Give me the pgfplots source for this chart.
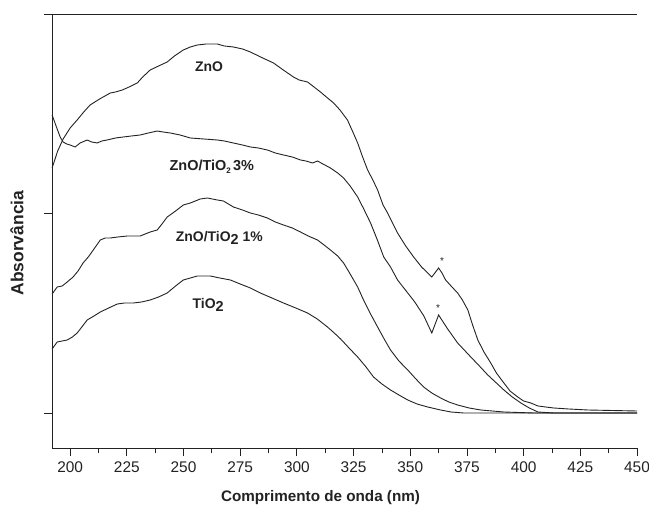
\documentclass[border=0pt]{standalone}
\usepackage{fontspec}
\setmainfont{Liberation Sans}
\usepackage{pgfplots}
\pgfplotsset{compat=1.18}
\definecolor{ink}{HTML}{222222}
\begin{document}
\begin{tikzpicture}
\begin{axis}[
  scale only axis, width=585bp, height=434bp,
  xmin=192, xmax=450, ymin=-35, ymax=399,
  axis x line*=box, axis y line*=left,
  axis line style={ink, line width=0.9bp},
  xtick={200,225,...,450}, minor x tick num=1,
  xtick pos=lower, ytick pos=left,
  ytick={0,199.5,399}, yticklabels={},
  tick align=outside,
  major tick length=8bp, minor tick length=5bp,
  every tick/.style={ink, line width=0.8bp},
  /pgf/number format/assume math mode=true,
  ticklabel style={font=\fontsize{15.5}{18}\selectfont, text=ink},
  xticklabel style={yshift=-2bp},
  xlabel={\textbf{Comprimento de onda (nm)}},
  ylabel={\textbf{Absorvância}},
  xlabel style={font=\fontsize{15.3}{18}\selectfont, text=ink, yshift=-11bp, xshift=-24bp},
  ylabel style={font=\fontsize{17.5}{20}\selectfont, text=ink, yshift=10bp, xshift=-12bp},
  clip=false,
]
\coordinate (ll) at (rel axis cs:0,0);
\coordinate (ur) at (rel axis cs:1,1);
% ZnO
\addplot[ink, line width=0.9bp] coordinates {
(192.05,245) (194.5,262) (196.9,274) (200,285) (203.1,293) (206,301) (208.8,308) (213,314) (217.7,320) (220,321) (223.0,323) (226,326) (229.6,330) (232,336) (235.3,343) (239,347) (242.8,351) (246,357) (249.9,363) (253,366) (256.1,368) (260,369) (264.9,369) (268,367) (272.0,366) (276,364) (279.5,361) (284,356) (289.7,350) (294,343) (298.5,336) (301,333) (304.7,331) (307,327) (310.4,321) (313,316) (316.2,310) (319,303) (322.3,293) (324.5,282) (326.8,270) (329,256) (331.2,243) (333.5,233) (335.6,223) (338,208) (340,200) (344.4,180) (348,167) (351.5,156) (355,146) (359.5,136) (362.5,145) (364,140) (365.6,133) (368,127) (370.9,120) (373,113) (375.4,103) (377.5,88) (379.8,73) (382.5,61) (385.5,50) (388,40) (391.3,30) (394,22) (397.4,16) (400,12) (403.2,10) (406.3,7) (413.3,5) (420,4) (428.4,3) (450,2)
};
% ZnO/TiO2 3%
\addplot[ink, line width=0.9bp] coordinates {
(192.05,298) (193.8,287) (195.6,276) (196.9,271) (198.5,269) (200,268) (202.2,266) (204.4,270) (207.5,273) (209.5,271) (211.9,270) (214,272) (216.3,273) (220,275) (223.4,276) (227,277) (230.9,278) (234.5,280) (238.4,282) (241,281) (244.2,280) (248.5,278) (253.0,275) (259,274) (264.9,273) (268,272) (272.0,270) (276,268) (279.5,266) (283,265) (287.0,263) (290.5,260) (294.1,258) (298,256) (301.6,253) (304,252) (306.9,250) (309.1,252) (311.5,249) (314.8,245) (318,240) (320.6,235) (323.5,227) (326.8,216) (329.5,204) (332.5,190) (335.5,173) (338.3,156) (341.3,146) (344.4,133) (348.9,120) (352,111) (356,97) (359.5,80) (362.5,98) (366.5,84) (370.9,70) (376.7,56) (380.5,47) (384.2,38) (391.3,23) (395,16) (398.8,10) (402.5,5) (406.3,1) (413.3,0) (450,0)
};
% ZnO/TiO2 1%
\addplot[ink, line width=0.9bp] coordinates {
(192.05,119) (194.3,126) (196.5,127) (198.7,131) (201.3,136) (203.5,142) (205.7,150) (208,156) (210.2,163) (213.3,173) (215.5,175) (217.7,175) (221,176) (225.2,177) (230.9,177) (235.3,181) (238.4,183) (240.5,189) (242.8,196) (246.5,202) (249.9,208) (253.0,210) (257.4,214) (260.5,215) (264.9,213) (267.6,212) (272.0,206) (276,203) (279.5,200) (283,198) (287.0,195) (290.5,191) (294.1,188) (298,185) (301.6,181) (305,177) (309.1,173) (312,168) (314.8,163) (318,157) (320.6,150) (323.5,139) (326.8,126) (329.4,113) (332.5,99) (335.6,86) (338.5,74) (341.3,63) (345,52) (348.9,43) (352.5,34) (355.9,26) (359.5,20) (363.4,15) (367,11) (370.9,8) (376,5) (381.1,3) (391.3,1) (404.5,0) (450,0)
};
% TiO2
\addplot[ink, line width=0.9bp] coordinates {
(192.05,64) (194.3,71) (196.5,72) (198.7,73) (201,76) (203.1,80) (205.5,87) (207.5,93) (210.5,97) (213.3,101) (217,105) (220.8,109) (224,110) (227.8,110) (231.5,111) (235.3,113) (239,116) (242.8,120) (246.5,127) (249.9,133) (253,135) (256.1,137) (261.8,137) (266,135) (270.7,133) (275,129) (279.5,125) (283.9,120) (289,115) (294.1,110) (299.5,105) (304.7,100) (309,94) (313.5,86) (316.5,80) (319.3,74) (323,65) (326.8,56) (330.5,46) (333.8,36) (337.5,29) (341.3,23) (345,18) (348.9,13) (353,9) (357.7,6) (363.4,3) (368,1) (373.6,0) (450,0)
};
\node[font=\bfseries\fontsize{14}{16}\selectfont, text=ink] at (axis cs:261.3,346) {ZnO};
\node[font=\bfseries\fontsize{14.5}{16}\selectfont, text=ink] at (axis cs:262.5,246) {ZnO/TiO\raisebox{-0.35ex}{\fontsize{8}{9}\selectfont 2}\,3\%};
\node[font=\bfseries\fontsize{14}{16}\selectfont, text=ink] at (axis cs:265.8,175) {ZnO/TiO\raisebox{-0.45ex}{\fontsize{14.5}{16}\selectfont 2} 1\%};
\node[font=\bfseries\fontsize{14}{16}\selectfont, text=ink] at (axis cs:260.9,108) {TiO\raisebox{-0.45ex}{\fontsize{14.5}{16}\selectfont 2}};
\node[font=\fontsize{10}{11}\selectfont, text=ink] at (axis cs:364,152) {*};
\node[font=\fontsize{10}{11}\selectfont, text=ink] at (axis cs:362.3,105) {*};
\end{axis}
\pgfresetboundingbox
\path (ll) ++(-52bp,-61bp) coordinate (bl);
\path (ur) ++(12bp,14bp) coordinate (tr);
\path (bl) rectangle (tr);
\end{tikzpicture}
\end{document}
